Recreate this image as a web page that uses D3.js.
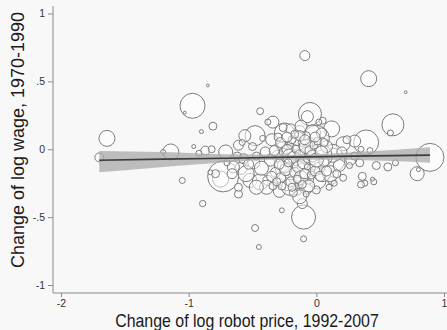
<!DOCTYPE html>
<html>
<head>
<meta charset="utf-8">
<script src="https://cdn.jsdelivr.net/npm/d3@7"></script>
<style>
  body { margin: 0; background: #f8f8f8; }
  text { font-family: "Liberation Sans", Arial, Helvetica, sans-serif; }
</style>
</head>
<body>
<div id="chart"></div>
<script>
// chart size
const width = 447, height = 330;

// scatter: industries (x = change of log robot price, y = change of log wage, w = weight)
const xs = [-1.70,-1.64,-1.14,-1.20,-1.05,-0.97,-1.03,-0.85,-0.81,-0.90,-0.44,-0.09,-0.96,-0.89,-0.48,-0.45,-0.27,-0.10,-0.10,-0.11,
  -0.61,-0.75,-0.73,-0.05,-0.07,-0.34,-0.38,0.05,0.12,0.39,0.30,-0.48,-0.56,-0.87,-0.92,-0.82,-0.71,-0.61,-0.25,0.00,
  -0.17,0.13,0.21,-0.61,-0.59,-0.52,-0.44,-0.38,-0.29,-0.23,-0.15,-0.08,0.01,0.05,0.12,0.21,0.36,0.38,0.45,0.47,
  0.42,0.41,0.70,0.60,0.58,0.89,0.79,0.80,0.56,0.62,0.35,0.44,0.34,0.27,0.13,0.11,-0.79,-0.83,-0.35,-0.39,
  -0.47,-0.55,-0.65,-0.57,-0.49,-0.21,-0.13,-0.21,-0.15,-0.03,-0.13,-0.15,0.03,-0.05,-0.15,0.26,0.14,
  -0.30,-0.27,-0.22,-0.18,-0.12,-0.08,-0.05,-0.02,0.02,-0.10,-0.20,-0.25,-0.32,-0.36,-0.40,-0.43,-0.30,-0.20,-0.12,-0.08,
  0.04,0.08,0.06,0.18,0.20,0.24,-0.06,-0.14,-0.24,-0.16,-0.10,-0.04,-0.28,-0.34,-0.47,-0.53,-0.62,-0.66,-0.70,-0.58,
  -0.50,-0.42,-0.18,-0.08,0.00,0.10,0.16,0.30,0.35,-0.15,-0.26,0.02,
  -0.28,-0.26,-0.24,-0.23,-0.21,-0.20,-0.19,-0.18,-0.17,-0.16,-0.14,-0.13,-0.12,-0.11,-0.10,-0.09,-0.08,-0.07,-0.06,-0.05,
  -0.04,-0.03,-0.02,-0.01,0.00,0.01,0.03,0.04,-0.29,-0.27,-0.22,-0.19,-0.15,-0.11,-0.07,-0.13,-0.17,-0.23,-0.09,-0.33,
  -0.35,-0.31,-0.01,0.06,0.08];
const ys = [-0.06,0.08,-0.02,-0.02,-0.23,0.32,0.27,0.47,0.17,0.13,0.28,0.69,0.02,-0.40,-0.58,-0.72,-0.45,-0.66,-0.50,-0.40,
  -0.33,-0.22,-0.20,0.26,0.24,0.20,0.20,0.21,0.15,0.05,0.06,0.10,0.10,-0.01,-0.03,0.00,-0.02,0.03,0.12,0.08,
  -0.11,-0.08,0.04,-0.28,-0.14,-0.23,-0.24,-0.23,-0.31,-0.23,-0.30,-0.28,-0.23,-0.18,-0.23,-0.21,-0.20,-0.25,-0.24,-0.12,
  -0.01,0.52,0.42,0.18,0.12,-0.06,-0.18,-0.15,-0.13,-0.10,-0.26,-0.22,-0.10,-0.08,-0.03,-0.18,-0.18,-0.17,0.07,-0.28,
  -0.28,-0.18,-0.13,-0.07,-0.10,-0.28,-0.35,-0.13,-0.08,0.12,0.13,-0.01,-0.05,-0.13,-0.20,-0.12,-0.25,
  -0.05,0.02,-0.02,0.04,0.02,-0.03,0.05,-0.10,-0.14,-0.16,-0.18,-0.12,-0.17,-0.08,-0.02,-0.14,0.09,0.15,0.17,0.10,
  0.12,0.02,-0.09,-0.12,-0.02,0.07,-0.22,-0.26,-0.07,-0.10,-0.06,-0.14,-0.21,-0.27,-0.05,-0.11,-0.05,-0.18,-0.10,0.05,
  0.02,0.08,-0.32,-0.33,-0.30,-0.28,-0.18,-0.05,0.00,0.08,0.16,0.20,
  0.05,-0.02,-0.15,0.00,-0.05,-0.24,0.07,-0.06,-0.17,0.00,-0.13,-0.04,-0.21,0.05,-0.10,-0.18,0.02,-0.07,-0.27,-0.01,
  -0.19,-0.05,0.03,-0.16,-0.08,0.06,-0.20,-0.02,-0.11,-0.27,-0.10,-0.28,-0.22,-0.26,-0.13,0.10,0.11,0.09,0.07,-0.01,
  -0.20,-0.24,0.09,0.05,-0.16];
const weights = [20,64,64,6,9,156,2,2,16,4,12,25,4,10,12,6,6,9,144,25,
  16,64,240,132,36,36,9,12,64,156,36,100,36,20,9,12,49,25,100,169,
  400,144,49,16,36,49,64,25,36,100,25,49,72,64,16,12,16,9,9,16,
  9,64,2,121,9,196,49,4,16,9,12,4,16,25,81,64,16,6,36,49,
  49,64,36,25,36,64,49,81,144,64,36,100,144,100,81,9,9,
  36,25,49,36,64,36,25,49,36,64,36,49,25,36,25,49,16,25,36,16,
  25,36,25,36,25,16,25,16,16,9,9,16,25,16,16,25,16,25,9,9,
  16,9,16,9,16,9,16,16,9,49,16,9,
  25,16,36,25,49,25,16,36,25,16,36,25,49,16,36,25,49,16,36,25,
  16,36,16,25,49,16,25,36,25,16,16,16,16,16,9,25,16,25,25,25,
  25,16,25,16,25];

// linear fit with 95% CI
const fitX  = [-1.70, -1.20, -0.70, -0.20, 0.30, 0.89];
const fitY  = [-0.081, -0.073, -0.066, -0.058, -0.051, -0.043];
const fitLo = [-0.170, -0.130, -0.095, -0.076, -0.080, -0.100];
const fitHi = [-0.012, -0.020, -0.037, -0.040, -0.022, 0.014];

// axis ticks
const xTicks = [-2, -1, 0, 1];
const xTickLabels = ["-2", "-1", "0", "1"];
const yTicks = [-1, -0.5, 0, 0.5, 1];
const yTickLabels = ["-1", "-.5", "0", ".5", "1"];

const plotLeft = 53, plotTop = 6, plotBottom = 293;

const svg = d3.select("#chart").append("svg")
    .attr("width", width)
    .attr("height", height);

svg.append("rect")
    .attr("width", width)
    .attr("height", height)
    .attr("fill", "#f8f8f8");

const x = d3.scaleLinear().domain([-2, 1]).range([61, 444]);
const y = d3.scaleLinear().domain([-1, 1]).range([285, 13.5]);
const r = d3.scaleSqrt().domain([0, 400]).range([0, 20]);

// bubbles
const pts = xs.map((d, i) => ({ x: d, y: ys[i], w: weights[i] }));
svg.append("g")
  .selectAll("circle")
  .data(pts)
  .join("circle")
    .attr("cx", d => x(d.x))
    .attr("cy", d => y(d.y))
    .attr("r", d => r(d.w))
    .attr("fill", "#ffffff")
    .attr("fill-opacity", 0.5)
    .attr("stroke", "#7c7c7c")
    .attr("stroke-width", 1);

// CI band + fit line
const fit = fitX.map((d, i) => ({ x: d, y: fitY[i], lo: fitLo[i], hi: fitHi[i] }));

svg.append("path")
    .datum(fit)
    .attr("fill", "#a9a9a9")
    .attr("fill-opacity", 0.75)
    .attr("d", d3.area()
        .curve(d3.curveMonotoneX)
        .x(d => x(d.x))
        .y0(d => y(d.lo))
        .y1(d => y(d.hi)));

svg.append("path")
    .datum(fit)
    .attr("fill", "none")
    .attr("stroke", "#3c3c3c")
    .attr("stroke-width", 1.6)
    .attr("d", d3.line().x(d => x(d.x)).y(d => y(d.y)));

// axes
svg.append("line")
    .attr("x1", plotLeft).attr("x2", plotLeft)
    .attr("y1", plotTop).attr("y2", plotBottom)
    .attr("stroke", "#8a8a8a");
svg.append("line")
    .attr("x1", plotLeft).attr("x2", width)
    .attr("y1", plotBottom).attr("y2", plotBottom)
    .attr("stroke", "#8a8a8a");

const xAxis = svg.append("g")
    .attr("transform", `translate(0,${plotBottom})`)
    .call(d3.axisBottom(x).tickValues(xTicks)
        .tickFormat((d, i) => xTickLabels[i])
        .tickSize(4).tickPadding(3));

const yAxis = svg.append("g")
    .attr("transform", `translate(${plotLeft},0)`)
    .call(d3.axisLeft(y).tickValues(yTicks)
        .tickFormat((d, i) => yTickLabels[i])
        .tickSize(5).tickPadding(3));

[xAxis, yAxis].forEach(g => {
  g.select(".domain").remove();
  g.selectAll("line").attr("stroke", "#8a8a8a");
  g.selectAll("text")
    .attr("fill", "#333")
    .style("font-size", "10.5px")
    .style("font-family", "'Liberation Sans', Arial, sans-serif");
});

// titles (the source is a bit squeezed horizontally)
svg.append("text")
    .attr("transform", "translate(247,327) scale(0.91,1)")
    .attr("text-anchor", "middle")
    .attr("fill", "#1a1a1a")
    .style("font-size", "17.5px")
    .text("Change of log robot price, 1992-2007");

svg.append("text")
    .attr("transform", "translate(24,140) rotate(-90)")
    .attr("text-anchor", "middle")
    .attr("fill", "#1a1a1a")
    .style("font-size", "18px")
    .text("Change of log wage, 1970-1990");
</script>
</body>
</html>
